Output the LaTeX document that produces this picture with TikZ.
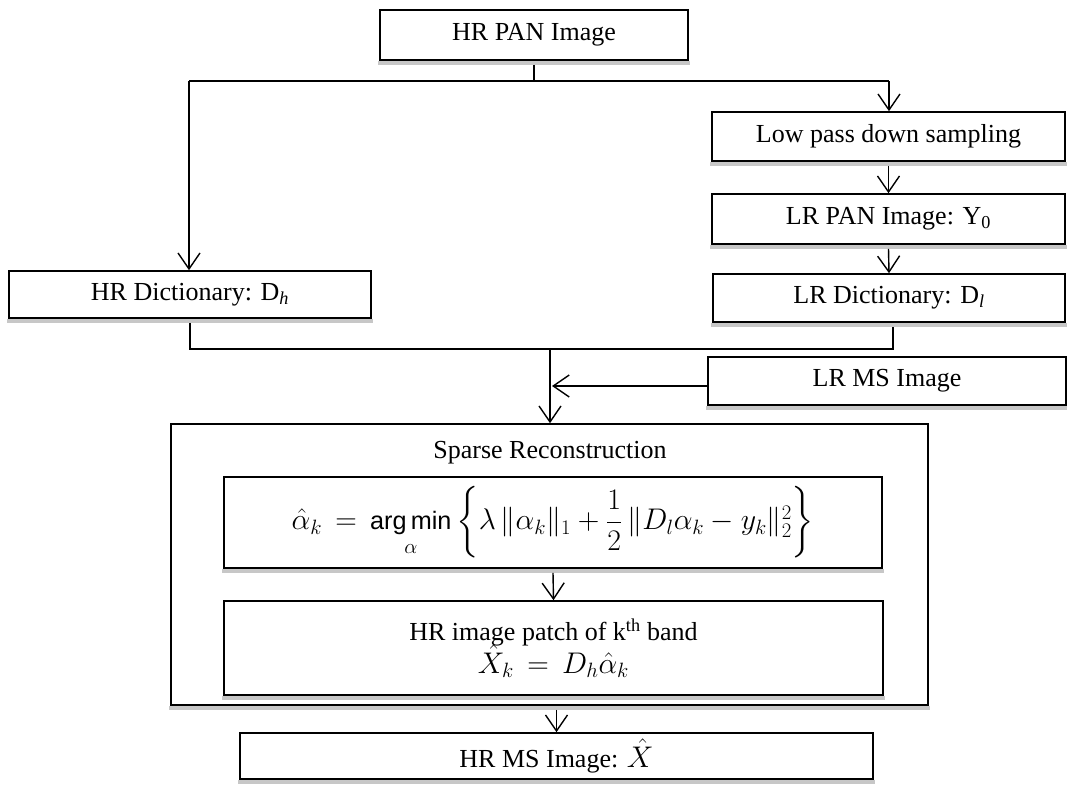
\documentclass[tikz,border=0pt]{standalone}
\usepackage{amsmath}
\usepackage{graphicx}
\usepackage{fontspec}
\setmainfont{Liberation Serif}
\setsansfont{Liberation Sans}
\usetikzlibrary{arrows.meta}
\tikzset{
  box/.style={draw, line width=1.6pt, fill=white, inner sep=0pt, align=center,
    font=\fontsize{26}{31}\selectfont},
  conn/.style={line width=1.4pt},
  arr/.style={conn, -{Straight Barb[length=16pt,width=22pt,line width=1.4pt]}},
  shade/.style={fill=black!22},
  lbl/.style={inner sep=0pt, font=\fontsize{26}{31}\selectfont, align=center}
}
\newcommand{\boxshadow}[1]{\fill[shade] ([xshift=-0.8pt]#1.south west) rectangle ([xshift=0.8pt,yshift=-4pt]#1.south east);}
\newcommand{\bigmath}[1]{\scalebox{1.2}{$#1$}}
\begin{document}
\begin{tikzpicture}[x=1pt,y=-1pt]
\useasboundingbox (0,0) rectangle (1067,784);
% boxes
\node[box, minimum width=308pt, minimum height=50pt] (pan) at (534,35) {HR PAN Image};
\node[box, minimum width=353pt, minimum height=49pt] (low) at (888.5,136.5) {Low pass down sampling};
\node[box, minimum width=353pt, minimum height=50pt] (lrpan) at (888.5,219) {LR PAN Image: Y\textsubscript{0}};
\node[box, minimum width=352pt, minimum height=48pt] (lrdict) at (889,298) {LR Dictionary: D\textsubscript{\textit{l}}};
\node[box, minimum width=362pt, minimum height=47pt] (hrdict) at (190,294.5) {HR Dictionary: D\textsubscript{\textit{h}}};
\node[box, minimum width=358pt, minimum height=48pt] (lrms) at (887,381) {LR MS Image};
\node[box, minimum width=757pt, minimum height=281pt] (sparse) at (549.5,564.5) {};
\node[lbl] (sparset) at (550,453) {Sparse Reconstruction};
\node[box, minimum width=658pt, minimum height=91pt] (opt) at (553,522.5)
  {\bigmath{\hat{\alpha}_k \,=\, \mathop{\text{\fontsize{21}{25}\selectfont\sffamily arg\,min}}\limits_{\alpha}\left\{\lambda\,\|\alpha_k\|_1 + \dfrac{1}{2}\,\|D_l\alpha_k - y_k\|_2^2\right\}}};
\node[box, minimum width=659pt, minimum height=94pt] (patch) at (553.5,648)
  {HR image patch of k\textsuperscript{th} band\\[-2pt] \bigmath{\hat{X}_k \,=\, D_h\hat{\alpha}_k}};
\node[box, minimum width=633pt, minimum height=46pt] (hrms) at (556.5,756) {HR MS Image: \bigmath{\hat{X}}};
\foreach \b in {pan,low,lrpan,lrdict,hrdict,lrms,sparse,opt,patch,hrms} {\boxshadow{\b}}
% junction coordinates
\coordinate (j1) at (534,81);
\coordinate (jl) at (189,81);
\coordinate (jr) at (889,81);
\coordinate (j2) at (190,349);
\coordinate (j3) at (893,349);
\coordinate (jm) at (550,349);
\coordinate (jms) at (552,386);
% connectors
\draw[conn] ([yshift=-4pt]pan.south) -- (j1);
\draw[conn] (jl) -- (jr);
\draw[arr] (jl) -- (hrdict.north -| jl);
\draw[arr] (jr) -- (low.north -| jr);
\draw[arr] ([yshift=-4pt]low.south) -- (lrpan.north);
\draw[arr] ([yshift=-4pt]lrpan.south) -- (lrdict.north);
\draw[conn] ([yshift=-4pt]hrdict.south) -- (j2) -- (j3) -- ([yshift=-4pt]lrdict.south -| j3);
\draw[arr] (jm) -- (sparse.north -| jm);
\draw[arr] (lrms.west |- jms) -- (jms);
\draw[arr] ([yshift=-4pt]opt.south) -- (patch.north);
\draw[arr] ([yshift=-4pt]sparse.south -| hrms.north) -- (hrms.north);
\end{tikzpicture}
\end{document}
